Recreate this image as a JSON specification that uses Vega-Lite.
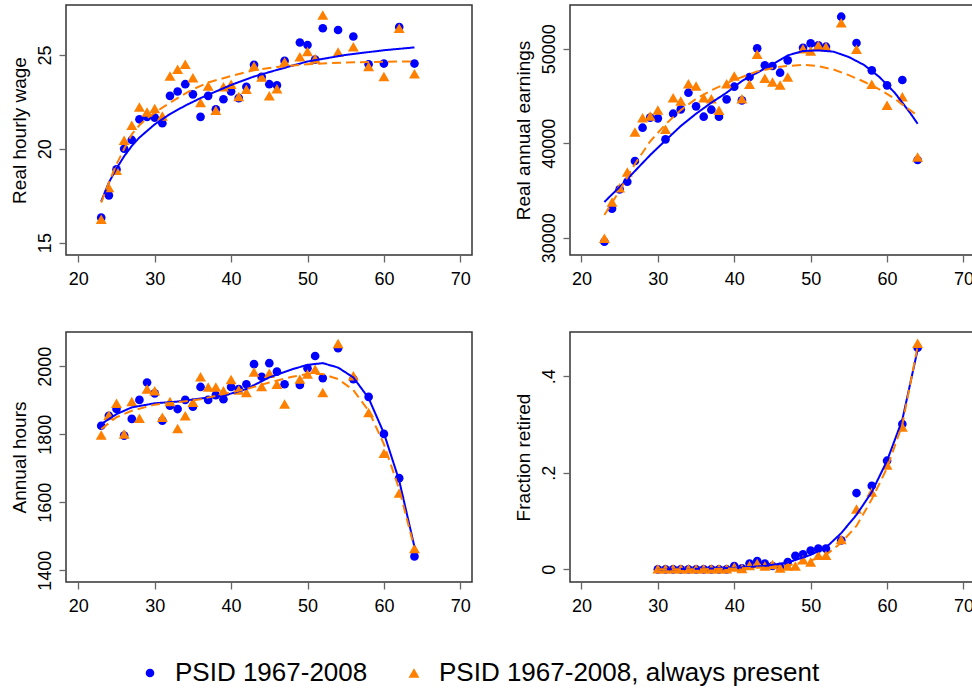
{
  "$schema": "https://vega.github.io/schema/vega-lite/v6.json",
  "background": "white",
  "padding": {"left": 9, "top": 4, "right": 0, "bottom": 0},
  "datasets": {
    "wage": [
      {"age":23,"series":"PSID 1967-2008","value":16.33},{"age":24,"series":"PSID 1967-2008","value":17.52},{"age":25,"series":"PSID 1967-2008","value":18.9},{"age":26,"series":"PSID 1967-2008","value":20.0},{"age":27,"series":"PSID 1967-2008","value":20.47},{"age":28,"series":"PSID 1967-2008","value":21.57},{"age":29,"series":"PSID 1967-2008","value":21.7},{"age":30,"series":"PSID 1967-2008","value":21.66},{"age":31,"series":"PSID 1967-2008","value":21.36},{"age":32,"series":"PSID 1967-2008","value":22.82},{"age":33,"series":"PSID 1967-2008","value":23.05},{"age":34,"series":"PSID 1967-2008","value":23.44},{"age":35,"series":"PSID 1967-2008","value":22.9},{"age":36,"series":"PSID 1967-2008","value":21.7},{"age":37,"series":"PSID 1967-2008","value":22.82},{"age":38,"series":"PSID 1967-2008","value":22.1},{"age":39,"series":"PSID 1967-2008","value":22.64},{"age":40,"series":"PSID 1967-2008","value":23.05},{"age":41,"series":"PSID 1967-2008","value":22.7},{"age":42,"series":"PSID 1967-2008","value":23.3},{"age":43,"series":"PSID 1967-2008","value":24.47},{"age":44,"series":"PSID 1967-2008","value":23.83},{"age":45,"series":"PSID 1967-2008","value":23.44},{"age":46,"series":"PSID 1967-2008","value":23.38},{"age":47,"series":"PSID 1967-2008","value":24.68},{"age":49,"series":"PSID 1967-2008","value":25.66},{"age":50,"series":"PSID 1967-2008","value":25.53},{"age":51,"series":"PSID 1967-2008","value":24.75},{"age":52,"series":"PSID 1967-2008","value":26.42},{"age":54,"series":"PSID 1967-2008","value":26.33},{"age":56,"series":"PSID 1967-2008","value":25.98},{"age":58,"series":"PSID 1967-2008","value":24.5},{"age":60,"series":"PSID 1967-2008","value":24.54},{"age":62,"series":"PSID 1967-2008","value":26.49},{"age":64,"series":"PSID 1967-2008","value":24.54},
      {"age":23,"series":"PSID 1967-2008, always present","value":16.24},{"age":24,"series":"PSID 1967-2008, always present","value":17.93},{"age":25,"series":"PSID 1967-2008, always present","value":18.85},{"age":26,"series":"PSID 1967-2008, always present","value":20.45},{"age":27,"series":"PSID 1967-2008, always present","value":21.25},{"age":28,"series":"PSID 1967-2008, always present","value":22.23},{"age":29,"series":"PSID 1967-2008, always present","value":21.96},{"age":30,"series":"PSID 1967-2008, always present","value":22.14},{"age":31,"series":"PSID 1967-2008, always present","value":21.75},{"age":32,"series":"PSID 1967-2008, always present","value":23.88},{"age":33,"series":"PSID 1967-2008, always present","value":24.24},{"age":34,"series":"PSID 1967-2008, always present","value":24.5},{"age":35,"series":"PSID 1967-2008, always present","value":23.79},{"age":36,"series":"PSID 1967-2008, always present","value":22.46},{"age":37,"series":"PSID 1967-2008, always present","value":23.35},{"age":38,"series":"PSID 1967-2008, always present","value":22.05},{"age":39,"series":"PSID 1967-2008, always present","value":23.3},{"age":40,"series":"PSID 1967-2008, always present","value":23.44},{"age":41,"series":"PSID 1967-2008, always present","value":22.78},{"age":42,"series":"PSID 1967-2008, always present","value":23.17},{"age":43,"series":"PSID 1967-2008, always present","value":24.41},{"age":44,"series":"PSID 1967-2008, always present","value":23.83},{"age":45,"series":"PSID 1967-2008, always present","value":22.82},{"age":46,"series":"PSID 1967-2008, always present","value":23.2},{"age":47,"series":"PSID 1967-2008, always present","value":24.63},{"age":49,"series":"PSID 1967-2008, always present","value":24.9},{"age":50,"series":"PSID 1967-2008, always present","value":25.18},{"age":51,"series":"PSID 1967-2008, always present","value":24.8},{"age":52,"series":"PSID 1967-2008, always present","value":27.13},{"age":54,"series":"PSID 1967-2008, always present","value":25.16},{"age":56,"series":"PSID 1967-2008, always present","value":25.43},{"age":58,"series":"PSID 1967-2008, always present","value":24.38},{"age":60,"series":"PSID 1967-2008, always present","value":23.85},{"age":62,"series":"PSID 1967-2008, always present","value":26.42},{"age":64,"series":"PSID 1967-2008, always present","value":24.0}
    ],
    "wage_fit": [
      {"age":23,"series":"PSID 1967-2008","value":17.2},{"age":24,"series":"PSID 1967-2008","value":18.2},{"age":25,"series":"PSID 1967-2008","value":18.95},{"age":26,"series":"PSID 1967-2008","value":19.6},{"age":27,"series":"PSID 1967-2008","value":20.15},{"age":28,"series":"PSID 1967-2008","value":20.6},{"age":30,"series":"PSID 1967-2008","value":21.3},{"age":32,"series":"PSID 1967-2008","value":21.85},{"age":34,"series":"PSID 1967-2008","value":22.3},{"age":36,"series":"PSID 1967-2008","value":22.7},{"age":38,"series":"PSID 1967-2008","value":23.05},{"age":40,"series":"PSID 1967-2008","value":23.4},{"age":43,"series":"PSID 1967-2008","value":23.85},{"age":46,"series":"PSID 1967-2008","value":24.2},{"age":50,"series":"PSID 1967-2008","value":24.65},{"age":55,"series":"PSID 1967-2008","value":25.0},{"age":60,"series":"PSID 1967-2008","value":25.25},{"age":64,"series":"PSID 1967-2008","value":25.4},
      {"age":23,"series":"PSID 1967-2008, always present","value":17.13},{"age":24,"series":"PSID 1967-2008, always present","value":18.2},{"age":25,"series":"PSID 1967-2008, always present","value":19.17},{"age":26,"series":"PSID 1967-2008, always present","value":20.0},{"age":27,"series":"PSID 1967-2008, always present","value":20.77},{"age":28,"series":"PSID 1967-2008, always present","value":21.25},{"age":29,"series":"PSID 1967-2008, always present","value":21.63},{"age":31,"series":"PSID 1967-2008, always present","value":22.19},{"age":33,"series":"PSID 1967-2008, always present","value":22.7},{"age":35,"series":"PSID 1967-2008, always present","value":23.17},{"age":37,"series":"PSID 1967-2008, always present","value":23.53},{"age":40,"series":"PSID 1967-2008, always present","value":23.88},{"age":43,"series":"PSID 1967-2008, always present","value":24.18},{"age":46,"series":"PSID 1967-2008, always present","value":24.36},{"age":50,"series":"PSID 1967-2008, always present","value":24.5},{"age":55,"series":"PSID 1967-2008, always present","value":24.6},{"age":60,"series":"PSID 1967-2008, always present","value":24.64},{"age":64,"series":"PSID 1967-2008, always present","value":24.65}
    ],
    "earn": [
      {"age":23,"series":"PSID 1967-2008","value":29577},{"age":24,"series":"PSID 1967-2008","value":33070},{"age":25,"series":"PSID 1967-2008","value":35115},{"age":26,"series":"PSID 1967-2008","value":35926},{"age":27,"series":"PSID 1967-2008","value":38113},{"age":28,"series":"PSID 1967-2008","value":41640},{"age":29,"series":"PSID 1967-2008","value":42700},{"age":30,"series":"PSID 1967-2008","value":42628},{"age":31,"series":"PSID 1967-2008","value":40406},{"age":32,"series":"PSID 1967-2008","value":43122},{"age":33,"series":"PSID 1967-2008","value":43580},{"age":34,"series":"PSID 1967-2008","value":45344},{"age":35,"series":"PSID 1967-2008","value":43898},{"age":36,"series":"PSID 1967-2008","value":42804},{"age":37,"series":"PSID 1967-2008","value":43545},{"age":38,"series":"PSID 1967-2008","value":42804},{"age":39,"series":"PSID 1967-2008","value":44638},{"age":40,"series":"PSID 1967-2008","value":45979},{"age":41,"series":"PSID 1967-2008","value":44533},{"age":42,"series":"PSID 1967-2008","value":47002},{"age":43,"series":"PSID 1967-2008","value":50035},{"age":44,"series":"PSID 1967-2008","value":48236},{"age":45,"series":"PSID 1967-2008","value":48166},{"age":46,"series":"PSID 1967-2008","value":47460},{"age":47,"series":"PSID 1967-2008","value":48765},{"age":49,"series":"PSID 1967-2008","value":50100},{"age":50,"series":"PSID 1967-2008","value":50564},{"age":51,"series":"PSID 1967-2008","value":50353},{"age":52,"series":"PSID 1967-2008","value":50212},{"age":54,"series":"PSID 1967-2008","value":53386},{"age":56,"series":"PSID 1967-2008","value":50600},{"age":58,"series":"PSID 1967-2008","value":47707},{"age":60,"series":"PSID 1967-2008","value":46120},{"age":62,"series":"PSID 1967-2008","value":46684},{"age":64,"series":"PSID 1967-2008","value":38219},
      {"age":23,"series":"PSID 1967-2008, always present","value":29930},{"age":24,"series":"PSID 1967-2008, always present","value":33774},{"age":25,"series":"PSID 1967-2008, always present","value":35291},{"age":26,"series":"PSID 1967-2008, always present","value":36949},{"age":27,"series":"PSID 1967-2008, always present","value":41182},{"age":28,"series":"PSID 1967-2008, always present","value":42698},{"age":29,"series":"PSID 1967-2008, always present","value":42875},{"age":30,"series":"PSID 1967-2008, always present","value":43510},{"age":31,"series":"PSID 1967-2008, always present","value":41464},{"age":32,"series":"PSID 1967-2008, always present","value":44815},{"age":33,"series":"PSID 1967-2008, always present","value":44462},{"age":34,"series":"PSID 1967-2008, always present","value":46296},{"age":35,"series":"PSID 1967-2008, always present","value":46049},{"age":36,"series":"PSID 1967-2008, always present","value":44815},{"age":37,"series":"PSID 1967-2008, always present","value":44709},{"age":38,"series":"PSID 1967-2008, always present","value":43474},{"age":39,"series":"PSID 1967-2008, always present","value":46296},{"age":40,"series":"PSID 1967-2008, always present","value":47108},{"age":41,"series":"PSID 1967-2008, always present","value":44709},{"age":42,"series":"PSID 1967-2008, always present","value":46226},{"age":43,"series":"PSID 1967-2008, always present","value":49400},{"age":44,"series":"PSID 1967-2008, always present","value":46861},{"age":45,"series":"PSID 1967-2008, always present","value":46473},{"age":46,"series":"PSID 1967-2008, always present","value":46155},{"age":47,"series":"PSID 1967-2008, always present","value":47002},{"age":49,"series":"PSID 1967-2008, always present","value":50000},{"age":50,"series":"PSID 1967-2008, always present","value":49753},{"age":51,"series":"PSID 1967-2008, always present","value":50353},{"age":52,"series":"PSID 1967-2008, always present","value":50212},{"age":54,"series":"PSID 1967-2008, always present","value":52751},{"age":56,"series":"PSID 1967-2008, always present","value":49929},{"age":58,"series":"PSID 1967-2008, always present","value":46226},{"age":60,"series":"PSID 1967-2008, always present","value":44004},{"age":62,"series":"PSID 1967-2008, always present","value":44920},{"age":64,"series":"PSID 1967-2008, always present","value":38536}
    ],
    "earn_fit": [
      {"age":23,"series":"PSID 1967-2008","value":33774},{"age":24,"series":"PSID 1967-2008","value":34585},{"age":25,"series":"PSID 1967-2008","value":35360},{"age":27,"series":"PSID 1967-2008","value":37055},{"age":29,"series":"PSID 1967-2008","value":38750},{"age":31,"series":"PSID 1967-2008","value":40300},{"age":33,"series":"PSID 1967-2008","value":41817},{"age":35,"series":"PSID 1967-2008","value":43122},{"age":37,"series":"PSID 1967-2008","value":44286},{"age":39,"series":"PSID 1967-2008","value":45344},{"age":41,"series":"PSID 1967-2008","value":46578},{"age":43,"series":"PSID 1967-2008","value":47460},{"age":45,"series":"PSID 1967-2008","value":48342},{"age":47,"series":"PSID 1967-2008","value":49295},{"age":49,"series":"PSID 1967-2008","value":49753},{"age":51,"series":"PSID 1967-2008","value":49824},{"age":53,"series":"PSID 1967-2008","value":49683},{"age":55,"series":"PSID 1967-2008","value":49118},{"age":57,"series":"PSID 1967-2008","value":48272},{"age":59,"series":"PSID 1967-2008","value":47002},{"age":61,"series":"PSID 1967-2008","value":45344},{"age":63,"series":"PSID 1967-2008","value":43228},{"age":64,"series":"PSID 1967-2008","value":42063},
      {"age":23,"series":"PSID 1967-2008, always present","value":32400},{"age":25,"series":"PSID 1967-2008, always present","value":35000},{"age":27,"series":"PSID 1967-2008, always present","value":37800},{"age":29,"series":"PSID 1967-2008, always present","value":40200},{"age":31,"series":"PSID 1967-2008, always present","value":42000},{"age":33,"series":"PSID 1967-2008, always present","value":43500},{"age":35,"series":"PSID 1967-2008, always present","value":44700},{"age":37,"series":"PSID 1967-2008, always present","value":45600},{"age":40,"series":"PSID 1967-2008, always present","value":46700},{"age":43,"series":"PSID 1967-2008, always present","value":47600},{"age":46,"series":"PSID 1967-2008, always present","value":48100},{"age":49,"series":"PSID 1967-2008, always present","value":48300},{"age":51,"series":"PSID 1967-2008, always present","value":48150},{"age":53,"series":"PSID 1967-2008, always present","value":47800},{"age":55,"series":"PSID 1967-2008, always present","value":47200},{"age":57,"series":"PSID 1967-2008, always present","value":46500},{"age":59,"series":"PSID 1967-2008, always present","value":45700},{"age":61,"series":"PSID 1967-2008, always present","value":44700},{"age":63,"series":"PSID 1967-2008, always present","value":43500},{"age":64,"series":"PSID 1967-2008, always present","value":42900}
    ],
    "hours": [
      {"age":23,"series":"PSID 1967-2008","value":1825},{"age":24,"series":"PSID 1967-2008","value":1854},{"age":25,"series":"PSID 1967-2008","value":1874},{"age":26,"series":"PSID 1967-2008","value":1796},{"age":27,"series":"PSID 1967-2008","value":1845},{"age":28,"series":"PSID 1967-2008","value":1901},{"age":29,"series":"PSID 1967-2008","value":1952},{"age":30,"series":"PSID 1967-2008","value":1920},{"age":31,"series":"PSID 1967-2008","value":1840},{"age":32,"series":"PSID 1967-2008","value":1884},{"age":33,"series":"PSID 1967-2008","value":1874},{"age":34,"series":"PSID 1967-2008","value":1901},{"age":35,"series":"PSID 1967-2008","value":1881},{"age":36,"series":"PSID 1967-2008","value":1939},{"age":37,"series":"PSID 1967-2008","value":1901},{"age":38,"series":"PSID 1967-2008","value":1915},{"age":39,"series":"PSID 1967-2008","value":1903},{"age":40,"series":"PSID 1967-2008","value":1939},{"age":41,"series":"PSID 1967-2008","value":1933},{"age":42,"series":"PSID 1967-2008","value":1947},{"age":43,"series":"PSID 1967-2008","value":2006},{"age":44,"series":"PSID 1967-2008","value":1969},{"age":45,"series":"PSID 1967-2008","value":2009},{"age":46,"series":"PSID 1967-2008","value":1984},{"age":47,"series":"PSID 1967-2008","value":1947},{"age":49,"series":"PSID 1967-2008","value":1945},{"age":50,"series":"PSID 1967-2008","value":1994},{"age":51,"series":"PSID 1967-2008","value":2030},{"age":52,"series":"PSID 1967-2008","value":1965},{"age":54,"series":"PSID 1967-2008","value":2053},{"age":56,"series":"PSID 1967-2008","value":1962},{"age":58,"series":"PSID 1967-2008","value":1910},{"age":60,"series":"PSID 1967-2008","value":1801},{"age":62,"series":"PSID 1967-2008","value":1671},{"age":64,"series":"PSID 1967-2008","value":1441},
      {"age":23,"series":"PSID 1967-2008, always present","value":1798},{"age":24,"series":"PSID 1967-2008, always present","value":1856},{"age":25,"series":"PSID 1967-2008, always present","value":1891},{"age":26,"series":"PSID 1967-2008, always present","value":1801},{"age":27,"series":"PSID 1967-2008, always present","value":1896},{"age":28,"series":"PSID 1967-2008, always present","value":1847},{"age":29,"series":"PSID 1967-2008, always present","value":1933},{"age":30,"series":"PSID 1967-2008, always present","value":1928},{"age":31,"series":"PSID 1967-2008, always present","value":1850},{"age":32,"series":"PSID 1967-2008, always present","value":1896},{"age":33,"series":"PSID 1967-2008, always present","value":1817},{"age":34,"series":"PSID 1967-2008, always present","value":1854},{"age":35,"series":"PSID 1967-2008, always present","value":1894},{"age":36,"series":"PSID 1967-2008, always present","value":1969},{"age":37,"series":"PSID 1967-2008, always present","value":1939},{"age":38,"series":"PSID 1967-2008, always present","value":1939},{"age":39,"series":"PSID 1967-2008, always present","value":1928},{"age":40,"series":"PSID 1967-2008, always present","value":1961},{"age":41,"series":"PSID 1967-2008, always present","value":1930},{"age":42,"series":"PSID 1967-2008, always present","value":1923},{"age":43,"series":"PSID 1967-2008, always present","value":1983},{"age":44,"series":"PSID 1967-2008, always present","value":1940},{"age":45,"series":"PSID 1967-2008, always present","value":1979},{"age":46,"series":"PSID 1967-2008, always present","value":1947},{"age":47,"series":"PSID 1967-2008, always present","value":1889},{"age":49,"series":"PSID 1967-2008, always present","value":1962},{"age":50,"series":"PSID 1967-2008, always present","value":1977},{"age":51,"series":"PSID 1967-2008, always present","value":1991},{"age":52,"series":"PSID 1967-2008, always present","value":1923},{"age":54,"series":"PSID 1967-2008, always present","value":2067},{"age":56,"series":"PSID 1967-2008, always present","value":1972},{"age":58,"series":"PSID 1967-2008, always present","value":1864},{"age":60,"series":"PSID 1967-2008, always present","value":1744},{"age":62,"series":"PSID 1967-2008, always present","value":1627},{"age":64,"series":"PSID 1967-2008, always present","value":1464}
    ],
    "hours_fit": [
      {"age":23,"series":"PSID 1967-2008","value":1830},{"age":25,"series":"PSID 1967-2008","value":1859},{"age":27,"series":"PSID 1967-2008","value":1879},{"age":30,"series":"PSID 1967-2008","value":1891},{"age":33,"series":"PSID 1967-2008","value":1896},{"age":36,"series":"PSID 1967-2008","value":1905},{"age":39,"series":"PSID 1967-2008","value":1913},{"age":42,"series":"PSID 1967-2008","value":1933},{"age":45,"series":"PSID 1967-2008","value":1967},{"age":48,"series":"PSID 1967-2008","value":1991},{"age":50,"series":"PSID 1967-2008","value":2004},{"age":52,"series":"PSID 1967-2008","value":2009},{"age":54,"series":"PSID 1967-2008","value":1996},{"age":56,"series":"PSID 1967-2008","value":1967},{"age":58,"series":"PSID 1967-2008","value":1906},{"age":60,"series":"PSID 1967-2008","value":1803},{"age":62,"series":"PSID 1967-2008","value":1664},{"age":64,"series":"PSID 1967-2008","value":1469},
      {"age":23,"series":"PSID 1967-2008, always present","value":1815},{"age":25,"series":"PSID 1967-2008, always present","value":1850},{"age":27,"series":"PSID 1967-2008, always present","value":1869},{"age":30,"series":"PSID 1967-2008, always present","value":1887},{"age":33,"series":"PSID 1967-2008, always present","value":1894},{"age":36,"series":"PSID 1967-2008, always present","value":1903},{"age":39,"series":"PSID 1967-2008, always present","value":1918},{"age":42,"series":"PSID 1967-2008, always present","value":1933},{"age":45,"series":"PSID 1967-2008, always present","value":1952},{"age":48,"series":"PSID 1967-2008, always present","value":1969},{"age":50,"series":"PSID 1967-2008, always present","value":1977},{"age":52,"series":"PSID 1967-2008, always present","value":1977},{"age":54,"series":"PSID 1967-2008, always present","value":1962},{"age":56,"series":"PSID 1967-2008, always present","value":1930},{"age":58,"series":"PSID 1967-2008, always present","value":1869},{"age":60,"series":"PSID 1967-2008, always present","value":1771},{"age":62,"series":"PSID 1967-2008, always present","value":1639},{"age":64,"series":"PSID 1967-2008, always present","value":1464}
    ],
    "retired": [
      {"age":30,"series":"PSID 1967-2008","value":0},{"age":31,"series":"PSID 1967-2008","value":0},{"age":32,"series":"PSID 1967-2008","value":0},{"age":33,"series":"PSID 1967-2008","value":0},{"age":34,"series":"PSID 1967-2008","value":0},{"age":35,"series":"PSID 1967-2008","value":0},{"age":36,"series":"PSID 1967-2008","value":0},{"age":37,"series":"PSID 1967-2008","value":0},{"age":38,"series":"PSID 1967-2008","value":0},{"age":39,"series":"PSID 1967-2008","value":0},{"age":40,"series":"PSID 1967-2008","value":0.007},{"age":41,"series":"PSID 1967-2008","value":0.002},{"age":42,"series":"PSID 1967-2008","value":0.012},{"age":43,"series":"PSID 1967-2008","value":0.017},{"age":44,"series":"PSID 1967-2008","value":0.012},{"age":45,"series":"PSID 1967-2008","value":0.007},{"age":46,"series":"PSID 1967-2008","value":0.005},{"age":47,"series":"PSID 1967-2008","value":0.015},{"age":48,"series":"PSID 1967-2008","value":0.028},{"age":49,"series":"PSID 1967-2008","value":0.031},{"age":50,"series":"PSID 1967-2008","value":0.039},{"age":51,"series":"PSID 1967-2008","value":0.043},{"age":52,"series":"PSID 1967-2008","value":0.043},{"age":54,"series":"PSID 1967-2008","value":0.06},{"age":56,"series":"PSID 1967-2008","value":0.158},{"age":58,"series":"PSID 1967-2008","value":0.173},{"age":60,"series":"PSID 1967-2008","value":0.225},{"age":62,"series":"PSID 1967-2008","value":0.301},{"age":64,"series":"PSID 1967-2008","value":0.459},
      {"age":30,"series":"PSID 1967-2008, always present","value":0.001},{"age":31,"series":"PSID 1967-2008, always present","value":0.001},{"age":32,"series":"PSID 1967-2008, always present","value":0.001},{"age":33,"series":"PSID 1967-2008, always present","value":0.001},{"age":34,"series":"PSID 1967-2008, always present","value":0.001},{"age":35,"series":"PSID 1967-2008, always present","value":0.001},{"age":36,"series":"PSID 1967-2008, always present","value":0.001},{"age":37,"series":"PSID 1967-2008, always present","value":0.001},{"age":38,"series":"PSID 1967-2008, always present","value":0.001},{"age":39,"series":"PSID 1967-2008, always present","value":0.001},{"age":40,"series":"PSID 1967-2008, always present","value":0.005},{"age":41,"series":"PSID 1967-2008, always present","value":0.002},{"age":42,"series":"PSID 1967-2008, always present","value":0.008},{"age":43,"series":"PSID 1967-2008, always present","value":0.012},{"age":44,"series":"PSID 1967-2008, always present","value":0.007},{"age":45,"series":"PSID 1967-2008, always present","value":0.01},{"age":46,"series":"PSID 1967-2008, always present","value":0.003},{"age":47,"series":"PSID 1967-2008, always present","value":0.007},{"age":48,"series":"PSID 1967-2008, always present","value":0.007},{"age":49,"series":"PSID 1967-2008, always present","value":0.02},{"age":50,"series":"PSID 1967-2008, always present","value":0.015},{"age":51,"series":"PSID 1967-2008, always present","value":0.029},{"age":52,"series":"PSID 1967-2008, always present","value":0.029},{"age":54,"series":"PSID 1967-2008, always present","value":0.062},{"age":56,"series":"PSID 1967-2008, always present","value":0.125},{"age":58,"series":"PSID 1967-2008, always present","value":0.16},{"age":60,"series":"PSID 1967-2008, always present","value":0.216},{"age":62,"series":"PSID 1967-2008, always present","value":0.295},{"age":64,"series":"PSID 1967-2008, always present","value":0.468}
    ],
    "retired_fit": [
      {"age":30,"series":"PSID 1967-2008","value":0.0},{"age":35,"series":"PSID 1967-2008","value":0.001},{"age":40,"series":"PSID 1967-2008","value":0.003},{"age":44,"series":"PSID 1967-2008","value":0.007},{"age":47,"series":"PSID 1967-2008","value":0.014},{"age":50,"series":"PSID 1967-2008","value":0.03},{"age":52,"series":"PSID 1967-2008","value":0.045},{"age":54,"series":"PSID 1967-2008","value":0.075},{"age":56,"series":"PSID 1967-2008","value":0.113},{"age":58,"series":"PSID 1967-2008","value":0.16},{"age":60,"series":"PSID 1967-2008","value":0.225},{"age":62,"series":"PSID 1967-2008","value":0.31},{"age":64,"series":"PSID 1967-2008","value":0.455},
      {"age":30,"series":"PSID 1967-2008, always present","value":0.0},{"age":35,"series":"PSID 1967-2008, always present","value":0.0},{"age":40,"series":"PSID 1967-2008, always present","value":0.002},{"age":44,"series":"PSID 1967-2008, always present","value":0.004},{"age":47,"series":"PSID 1967-2008, always present","value":0.008},{"age":50,"series":"PSID 1967-2008, always present","value":0.018},{"age":52,"series":"PSID 1967-2008, always present","value":0.03},{"age":54,"series":"PSID 1967-2008, always present","value":0.055},{"age":56,"series":"PSID 1967-2008, always present","value":0.09},{"age":58,"series":"PSID 1967-2008, always present","value":0.145},{"age":60,"series":"PSID 1967-2008, always present","value":0.21},{"age":62,"series":"PSID 1967-2008, always present","value":0.3},{"age":64,"series":"PSID 1967-2008, always present","value":0.462}
    ]
  },
  "columns": 2,
  "spacing": {"row": 77, "column": 98},
  "bounds": "flush",
  "resolve": {"scale": {"color": "shared", "shape": "shared", "size": "shared", "strokeDash": "shared", "y": "independent", "x": "independent"}, "legend": {"color": "shared", "shape": "shared"}},
  "concat": [
    {
      "width": 406, "height": 250,
      "layer": [
        {"data": {"name": "wage"}, "mark": {"type": "point", "filled": true, "opacity": 1},
         "encoding": {
           "x": {"field": "age", "type": "quantitative", "scale": {"domain": [18.39, 71.53], "nice": false, "zero": false}, "axis": {"values": [20,30,40,50,60,70], "title": null}},
           "y": {"field": "value", "type": "quantitative", "scale": {"domain": [14.34, 27.66], "nice": false, "zero": false}, "axis": {"values": [15,20,25], "title": "Real hourly wage"}},
           "color": {"field": "series", "type": "nominal", "scale": {"domain": ["PSID 1967-2008", "PSID 1967-2008, always present"], "range": ["#0000FF", "#FF8000"]}, "legend": {"title": null}},
           "shape": {"field": "series", "type": "nominal", "scale": {"domain": ["PSID 1967-2008", "PSID 1967-2008, always present"], "range": ["circle", "triangle-up"]}, "legend": {"title": null}},
           "size": {"field": "series", "type": "nominal", "scale": {"domain": ["PSID 1967-2008", "PSID 1967-2008, always present"], "range": [75, 120]}, "legend": null}
         }},
        {"data": {"name": "wage_fit"}, "mark": {"type": "line", "strokeWidth": 2},
         "encoding": {
           "x": {"field": "age", "type": "quantitative"},
           "y": {"field": "value", "type": "quantitative"},
           "color": {"field": "series", "type": "nominal", "legend": null},
           "strokeDash": {"field": "series", "type": "nominal", "scale": {"domain": ["PSID 1967-2008", "PSID 1967-2008, always present"], "range": [[1, 0], [9, 5]]}, "legend": null}
         }}
      ]
    },
    {
      "width": 406, "height": 250,
      "layer": [
        {"data": {"name": "earn"}, "mark": {"type": "point", "filled": true, "opacity": 1},
         "encoding": {
           "x": {"field": "age", "type": "quantitative", "scale": {"domain": [18.5, 71.64], "nice": false, "zero": false}, "axis": {"values": [20,30,40,50,60,70], "title": null}},
           "y": {"field": "value", "type": "quantitative", "scale": {"domain": [28169, 54624], "nice": false, "zero": false}, "axis": {"values": [30000,40000,50000], "format": "d", "title": "Real annual earnings"}},
           "color": {"field": "series", "type": "nominal", "legend": {"title": null}},
           "shape": {"field": "series", "type": "nominal", "legend": {"title": null}},
           "size": {"field": "series", "type": "nominal", "legend": null}
         }},
        {"data": {"name": "earn_fit"}, "mark": {"type": "line", "strokeWidth": 2},
         "encoding": {
           "x": {"field": "age", "type": "quantitative"},
           "y": {"field": "value", "type": "quantitative"},
           "color": {"field": "series", "type": "nominal", "legend": null},
           "strokeDash": {"field": "series", "type": "nominal", "legend": null}
         }}
      ]
    },
    {
      "width": 406, "height": 250,
      "layer": [
        {"data": {"name": "hours"}, "mark": {"type": "point", "filled": true, "opacity": 1},
         "encoding": {
           "x": {"field": "age", "type": "quantitative", "scale": {"domain": [18.39, 71.53], "nice": false, "zero": false}, "axis": {"values": [20,30,40,50,60,70], "title": null}},
           "y": {"field": "value", "type": "quantitative", "scale": {"domain": [1365.7, 2100.5], "nice": false, "zero": false}, "axis": {"values": [1400,1600,1800,2000], "format": "d", "title": "Annual hours"}},
           "color": {"field": "series", "type": "nominal", "legend": {"title": null}},
           "shape": {"field": "series", "type": "nominal", "legend": {"title": null}},
           "size": {"field": "series", "type": "nominal", "legend": null}
         }},
        {"data": {"name": "hours_fit"}, "mark": {"type": "line", "strokeWidth": 2},
         "encoding": {
           "x": {"field": "age", "type": "quantitative"},
           "y": {"field": "value", "type": "quantitative"},
           "color": {"field": "series", "type": "nominal", "legend": null},
           "strokeDash": {"field": "series", "type": "nominal", "legend": null}
         }}
      ]
    },
    {
      "width": 406, "height": 250,
      "layer": [
        {"data": {"name": "retired"}, "mark": {"type": "point", "filled": true, "opacity": 1},
         "encoding": {
           "x": {"field": "age", "type": "quantitative", "scale": {"domain": [18.5, 71.64], "nice": false, "zero": false}, "axis": {"values": [20,30,40,50,60,70], "title": null}},
           "y": {"field": "value", "type": "quantitative", "scale": {"domain": [-0.0262, 0.4915], "nice": false, "zero": false}, "axis": {"values": [0, 0.2, 0.4], "labelExpr": "datum.value == 0 ? '0' : replace(format(datum.value, '.1f'), '0.', '.')", "title": "Fraction retired"}},
           "color": {"field": "series", "type": "nominal", "legend": {"title": null}},
           "shape": {"field": "series", "type": "nominal", "legend": {"title": null}},
           "size": {"field": "series", "type": "nominal", "legend": null}
         }},
        {"data": {"name": "retired_fit"}, "mark": {"type": "line", "strokeWidth": 2},
         "encoding": {
           "x": {"field": "age", "type": "quantitative"},
           "y": {"field": "value", "type": "quantitative"},
           "color": {"field": "series", "type": "nominal", "legend": null},
           "strokeDash": {"field": "series", "type": "nominal", "legend": null}
         }}
      ]
    }
  ],
  "config": {
    "font": "Liberation Sans",
    "view": {"stroke": "#333333", "strokeWidth": 1.5},
    "axis": {"domain": false, "grid": false, "tickSize": 7, "tickColor": "#666666", "tickWidth": 1.3, "labelFont": "Liberation Sans", "labelFontSize": 18, "labelColor": "#000000", "titleFont": "Liberation Sans", "titleFontSize": 19, "titleFontWeight": "normal", "titleColor": "#000000", "labelOverlap": false, "labelFlush": false},
    "axisX": {"labelPadding": 8},
    "axisY": {"labelPadding": 5, "labelAngle": -90, "labelAlign": "center", "labelBaseline": "bottom", "titlePadding": 7},
    "legend": {"orient": "none", "legendX": 71, "legendY": 655, "direction": "horizontal", "labelFont": "Liberation Sans", "labelFontSize": 26, "labelColor": "#000000", "labelLimit": 0, "symbolSize": 110, "labelOffset": 12, "columnPadding": 33, "symbolStrokeWidth": 0}
  }
}
